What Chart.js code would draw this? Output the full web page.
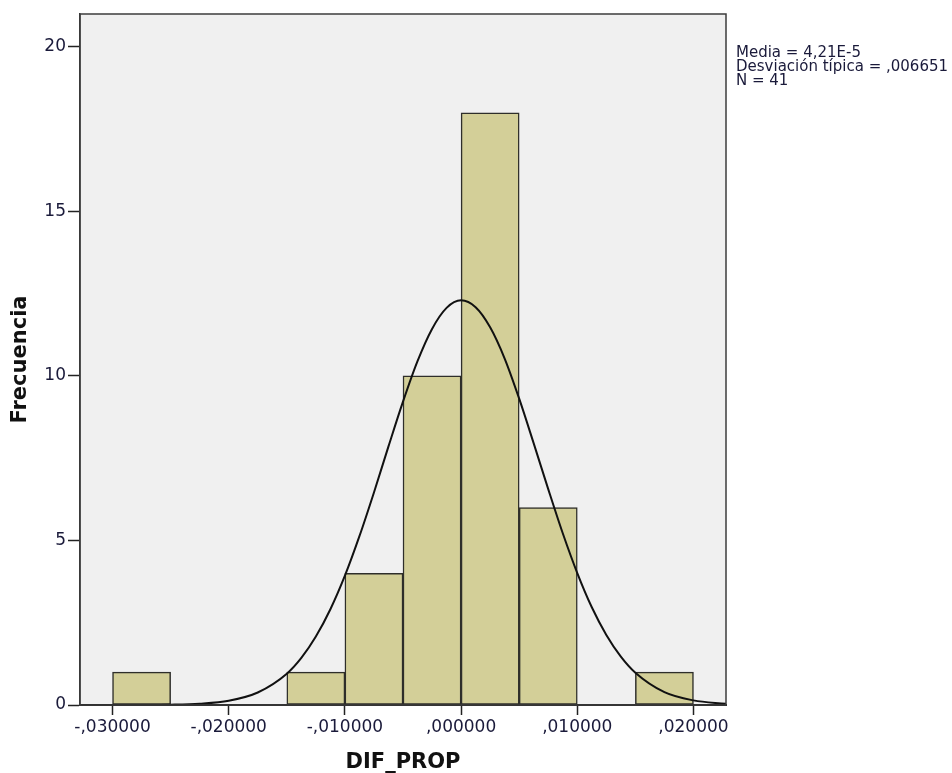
<!DOCTYPE html>
<html>
<head>
<meta charset="utf-8">
<script src="https://cdn.jsdelivr.net/npm/chart.js@4.4.0/dist/chart.umd.min.js"></script>
<style>
  html, body { margin: 0; padding: 0; background: #ffffff; }
  #wrap { position: relative; width: 952px; height: 773px; }
  canvas { display: block; }
</style>
</head>
<body>
<div id="wrap"><canvas id="c" width="952" height="773"></canvas></div>
<script>
// ---- Data ----
const binCenters = [-0.0275, -0.0225, -0.0175, -0.0125, -0.0075, -0.0025, 0.0025, 0.0075, 0.0125, 0.0175];
const binCounts  = [1, 0, 0, 1, 4, 10, 18, 6, 0, 1];

const curveX = [-0.0328, -0.0300, -0.0275, -0.0250, -0.0225, -0.0200, -0.0175, -0.0150, -0.01375, -0.0125, -0.01125, -0.0100,
                -0.00875, -0.0075, -0.00625, -0.0050, -0.00375, -0.0025, -0.00125, 0.0000, 0.00125, 0.0025, 0.00375,
                0.0050, 0.00625, 0.0075, 0.00875, 0.0100, 0.01125, 0.0125, 0.01375, 0.0150, 0.0175, 0.0200, 0.0228];
const curveY = [0.0001, 0.0005, 0.002, 0.01, 0.04, 0.13, 0.38, 0.95, 1.43, 2.08, 2.91, 3.93,
                5.13, 6.46, 7.86, 9.22, 10.45, 11.43, 12.07, 12.30, 12.09, 11.48, 10.53,
                9.31, 7.95, 6.56, 5.22, 4.01, 2.97, 2.13, 1.47, 0.98, 0.39, 0.14, 0.035];

const xTickValues = [-0.03, -0.02, -0.01, 0.0, 0.01, 0.02];
const xTickLabels = ["-,030000", "-,020000", "-,010000", ",000000", ",010000", ",020000"];
const yTickValues = [0, 5, 10, 15, 20];
const yTickLabels = ["0", "5", "10", "15", "20"];

const xTitle = "DIF_PROP";
const yTitle = "Frecuencia";
const statsLines = ["Media = 4,21E-5", "Desviación típica = ,006651", "N = 41"];

// ---- Chart ----
const bgPlugin = {
  id: 'plotBg',
  beforeDraw(chart) {
    const {ctx, chartArea: a} = chart;
    ctx.save();
    ctx.fillStyle = '#f0f0f0';
    ctx.fillRect(a.left, a.top, a.right - a.left, a.bottom - a.top);
    ctx.restore();
  },
  afterDraw(chart) {
    const {ctx, chartArea: a} = chart;
    ctx.save();
    ctx.strokeStyle = '#3c3c3c';
    ctx.lineWidth = 1.5;
    ctx.strokeRect(a.left, a.top, a.right - a.left, a.bottom - a.top);
    // stats text
    ctx.fillStyle = '#1a1a3a';
    ctx.font = '15px "DejaVu Sans"';
    ctx.textBaseline = 'alphabetic';
    ctx.textAlign = 'left';
    statsLines.forEach((t, i) => ctx.fillText(t, a.right + 10, 57 + i * 14));
    ctx.restore();
  }
};

const tickFont = { family: '"DejaVu Sans"', size: 17 };
const titleFont = { family: '"DejaVu Sans"', size: 21, weight: 'bold', lineHeight: 1 };

new Chart(document.getElementById('c'), {
  type: 'bar',
  data: {
    datasets: [
      {
        type: 'line',
        data: curveX.map((x, i) => ({ x: x, y: curveY[i] })),
        borderColor: '#111111',
        borderWidth: 2,
        pointRadius: 0,
        fill: false,
        cubicInterpolationMode: 'monotone',
        order: 0
      },
      {
        type: 'bar',
        data: binCenters.map((x, i) => ({ x: x, y: binCounts[i] })),
        backgroundColor: '#d3cf98',
        borderColor: '#2e2e2a',
        borderWidth: 1.5,
        borderSkipped: false,
        barPercentage: 1,
        categoryPercentage: 1,
        order: 1
      }
    ]
  },
  options: {
    responsive: false,
    animation: false,
    events: [],
    layout: { padding: { left: 0, right: 226, top: 14, bottom: 0 } },
    plugins: { legend: { display: false }, tooltip: { enabled: false } },
    scales: {
      x: {
        type: 'linear',
        min: -0.0328,
        max: 0.0228,
        offset: false,
        afterFit(s) { s.height = 68; },
        afterBuildTicks(s) { s.ticks = xTickValues.map(v => ({ value: v })); },
        ticks: {
          autoSkip: false,
          maxRotation: 0,
          padding: 2,
          color: '#1a1a3a',
          font: tickFont,
          callback: (v, i) => xTickLabels[i]
        },
        grid: { display: true, drawOnChartArea: false, offset: false, tickLength: 10, tickColor: '#222222', tickWidth: 1.5 },
        border: { display: true, color: '#222222', width: 2 },
        title: { display: true, text: xTitle, color: '#111111', font: titleFont, padding: { top: 0, bottom: 0 } }
      },
      y: {
        type: 'linear',
        min: 0,
        max: 21,
        afterFit(s) { s.width = 80; },
        afterBuildTicks(s) { s.ticks = yTickValues.map(v => ({ value: v })); },
        ticks: {
          padding: 2,
          color: '#1a1a3a',
          font: tickFont,
          callback: (v, i) => yTickLabels[i]
        },
        grid: { display: true, drawOnChartArea: false, tickLength: 12, tickColor: '#222222', tickWidth: 1.5 },
        border: { display: true, color: '#333333', width: 1.5 },
        title: { display: true, text: yTitle, color: '#111111', font: titleFont, padding: { top: 10, bottom: 0 } }
      }
    }
  },
  plugins: [bgPlugin]
});
</script>
</body>
</html>
